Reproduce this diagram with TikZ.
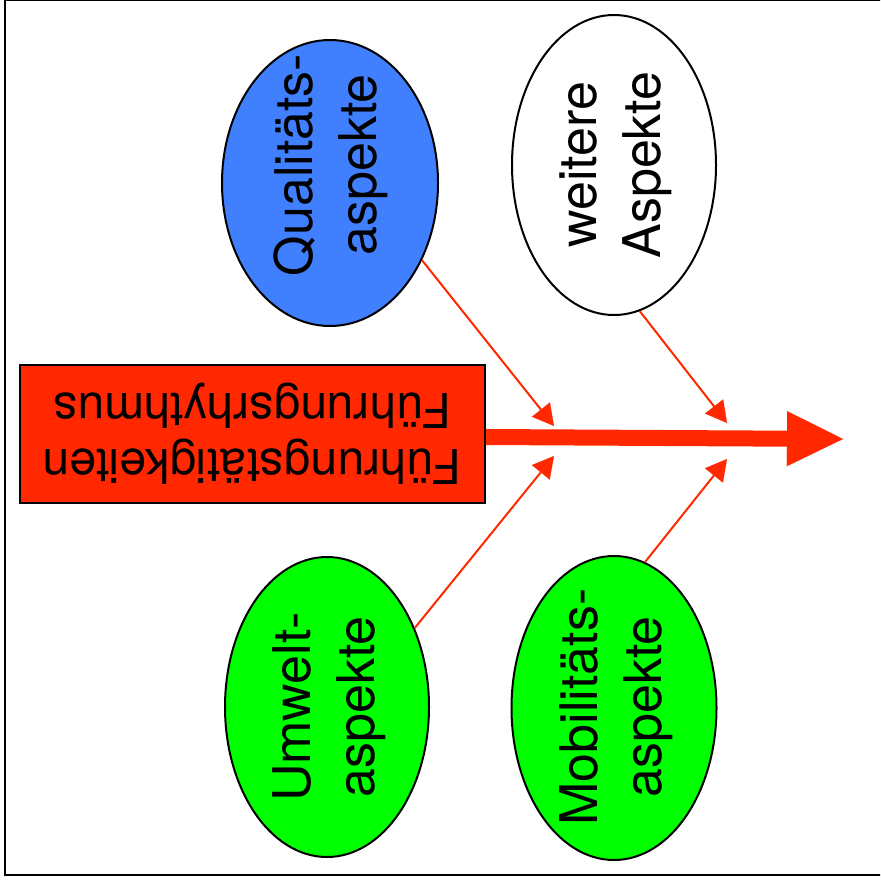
\documentclass[tikz,border=0pt]{standalone}
\usepackage{fontspec}
\setmainfont{TeX Gyre Heros}
\usetikzlibrary{arrows.meta,shapes.geometric}
\definecolor{fbred}{RGB}{255,40,0}
\definecolor{fbblue}{RGB}{64,128,255}
\definecolor{fbgreen}{RGB}{0,255,0}
\begin{document}
\begin{tikzpicture}[x=1pt,y=-1pt,
  aspect/.style={ellipse, draw=black, line width=2pt, inner sep=0pt},
  lbl/.style={rotate=90, align=center, inner sep=0pt, font=\fontsize{52}{64}\selectfont},
  boxlbl/.style={rotate=180, align=center, inner sep=0pt, font=\fontsize{48}{56}\selectfont},
  feeder/.style={draw=fbred, line width=2pt, -{Triangle[length=21pt,width=23pt,line width=0.1pt]}},
  mainarrow/.style={draw=fbred, line width=16pt, -{Triangle[length=56pt,width=55pt,line width=0.1pt]}}
]
\useasboundingbox (0,0) rectangle (880,888);
\begin{scope}
\clip (0,0) rectangle (880,888);
\draw[line width=2pt] (5,0.5) rectangle (895,875);
\end{scope}

% ellipses
\node[aspect, fill=fbblue, minimum width=216pt, minimum height=286pt] (q) at (330,183) {};
\node[lbl] (qt) at (331,165) {Qualitäts-\\aspekte};
\node[aspect, fill=white, minimum width=204pt, minimum height=300pt] (w) at (614,165) {};
\node[lbl] (wt) at (616,165) {weitere\\Aspekte};
\node[aspect, fill=fbgreen, minimum width=204pt, minimum height=300pt] (u) at (327,707) {};
\node[lbl] (ut) at (329,707) {Umwelt-\\aspekte};
\node[aspect, fill=fbgreen, minimum width=205pt, minimum height=304pt] (m) at (614,708) {};
\node[lbl] (mt) at (616,707) {Mobilitäts-\\aspekte};

% box
\node[draw=black, line width=2pt, fill=fbred, minimum width=465pt, minimum height=138pt, inner sep=0pt] (box) at (252.5,434) {};
\node[boxlbl] (bt) at (252.5,434) {Führungstätigkeiten\\Führungsrhythmus};

% main arrow
\coordinate (tip) at (843,439);
\draw[mainarrow] ([yshift=-3pt]box.east) -- (tip);

% feeder arrows
\coordinate (t1) at (554,426);
\coordinate (t2) at (727,423);
\coordinate (t3) at (554,456);
\coordinate (t4) at (727,459);
\draw[feeder] (q.-40) -- (t1);
\draw[feeder] (w.-80) -- (t2);
\draw[feeder] (u.42) -- (t3);
\draw[feeder] (m.78) -- (t4);
\end{tikzpicture}
\end{document}
